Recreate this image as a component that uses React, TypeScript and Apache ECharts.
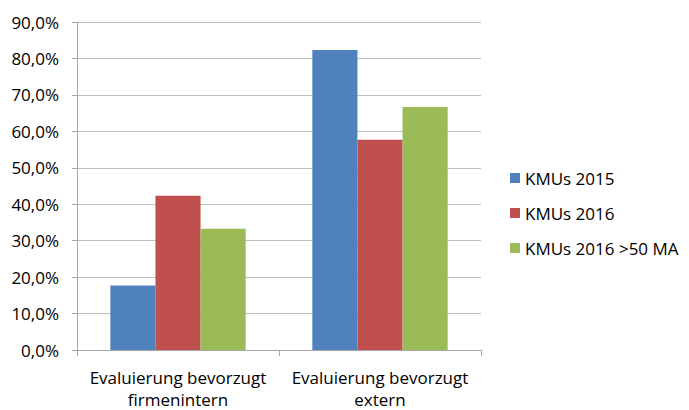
import React, { useEffect, useRef } from "react";
import * as echarts from "echarts";

const categories = ["Evaluierung bevorzugt\nfirmenintern", "Evaluierung bevorzugt\nextern"];
const seriesNames = ["KMUs 2015", "KMUs 2016", "KMUs 2016 >50 MA"];
const kmu2015 = [17.7, 82.3];
const kmu2016 = [42.3, 57.7];
const kmu2016Over50 = [33.3, 66.7];
const colors = ["#4F81BD", "#C0504D", "#9BBB59"];

const FONT = "'Open Sans', 'Noto Sans', sans-serif";

export default function App() {
  const ref = useRef<HTMLDivElement>(null);

  useEffect(() => {
    document.body.style.margin = "0";
    document.body.style.overflow = "hidden";
    if (!ref.current) return;
    const chart = echarts.init(ref.current, undefined, { renderer: "svg" });
    const values = [kmu2015, kmu2016, kmu2016Over50];
    chart.setOption({
      animation: false,
      backgroundColor: "#ffffff",
      textStyle: { fontFamily: FONT },
      grid: { left: 77, right: 208, top: 22, bottom: 57 },
      legend: {
        orient: "vertical",
        left: 505,
        top: 164,
        itemWidth: 10,
        itemHeight: 10,
        itemGap: 17,
        icon: "rect",
        textStyle: { fontSize: 17, color: "#000", lineHeight: 18, fontFamily: FONT },
        data: seriesNames,
      },
      xAxis: {
        type: "category",
        data: categories,
        axisLine: { lineStyle: { color: "#A6A6A6" } },
        axisTick: { show: true, length: 6, lineStyle: { color: "#A6A6A6" } },
        axisLabel: {
          interval: 0,
          fontSize: 17,
          color: "#000",
          lineHeight: 22,
          margin: 16,
          fontFamily: FONT,
        },
      },
      yAxis: {
        type: "value",
        min: 0,
        max: 90,
        interval: 10,
        axisLine: { show: true, lineStyle: { color: "#A6A6A6" } },
        axisTick: { show: true, length: 5, lineStyle: { color: "#A6A6A6" } },
        splitLine: { lineStyle: { color: "#BFBFBF" } },
        axisLabel: {
          fontSize: 17,
          color: "#000",
          margin: 18,
          fontFamily: FONT,
          formatter: (v: number) => v.toFixed(1).replace(".", ",") + "%",
        },
      },
      series: seriesNames.map((name, i) => ({
        name,
        type: "bar",
        data: values[i],
        barGap: "0%",
        barCategoryGap: "33%",
        itemStyle: { color: colors[i] },
      })),
    });
    return () => chart.dispose();
  }, []);

  return <div ref={ref} style={{ width: 689, height: 410 }} />;
}
